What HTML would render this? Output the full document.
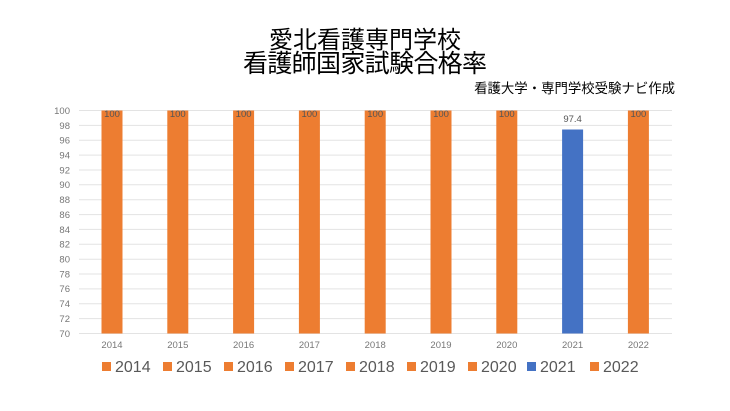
<!DOCTYPE html>
<html><head><meta charset="utf-8"><style>
body{margin:0;background:#fff;}
svg{display:block;font-family:"Liberation Sans","Noto Sans CJK JP",sans-serif;}
</style></head><body>
<svg width="730" height="411" viewBox="0 0 730 411" xmlns="http://www.w3.org/2000/svg">
<rect width="730" height="411" fill="#fff"/>
<text x="365" y="48" font-size="24" text-anchor="middle" fill="#000" font-family="Noto Sans CJK JP,sans-serif">愛北看護専門学校</text>
<text x="365" y="72" font-size="25" text-anchor="middle" fill="#000" font-family="Noto Sans CJK JP,sans-serif" textLength="244">看護師国家試験合格率</text>
<text x="675" y="93" font-size="13.4" text-anchor="end" fill="#000" font-family="Noto Sans CJK JP,sans-serif">看護大学・専門学校受験ナビ作成</text>
<g stroke="#e3e3e3" stroke-width="1">
<line x1="79" x2="672" y1="110.5" y2="110.5"/><line x1="79" x2="672" y1="125.4" y2="125.4"/><line x1="79" x2="672" y1="140.2" y2="140.2"/><line x1="79" x2="672" y1="155.1" y2="155.1"/><line x1="79" x2="672" y1="170" y2="170"/><line x1="79" x2="672" y1="184.8" y2="184.8"/><line x1="79" x2="672" y1="199.7" y2="199.7"/><line x1="79" x2="672" y1="214.6" y2="214.6"/><line x1="79" x2="672" y1="229.4" y2="229.4"/><line x1="79" x2="672" y1="244.3" y2="244.3"/><line x1="79" x2="672" y1="259.2" y2="259.2"/><line x1="79" x2="672" y1="274" y2="274"/><line x1="79" x2="672" y1="288.9" y2="288.9"/><line x1="79" x2="672" y1="303.8" y2="303.8"/><line x1="79" x2="672" y1="318.6" y2="318.6"/><line x1="79" x2="672" y1="333.5" y2="333.5"/>
</g>
<g font-size="9.5" fill="#777" text-anchor="end">
<text x="70" y="114">100</text><text x="70" y="129">98</text><text x="70" y="143.5">96</text><text x="70" y="158.5">94</text><text x="70" y="173.5">92</text><text x="70" y="188">90</text><text x="70" y="203">88</text><text x="70" y="218">86</text><text x="70" y="233">84</text><text x="70" y="247.5">82</text><text x="70" y="262.5">80</text><text x="70" y="277.5">78</text><text x="70" y="292">76</text><text x="70" y="307">74</text><text x="70" y="322">72</text><text x="70" y="337">70</text>
</g>
<g fill="#ED7D31">
<rect x="101.5" y="110.5" width="21" height="223"/><rect x="167.3" y="110.5" width="21" height="223"/><rect x="233.1" y="110.5" width="21" height="223"/><rect x="298.9" y="110.5" width="21" height="223"/><rect x="364.7" y="110.5" width="21" height="223"/><rect x="430.5" y="110.5" width="21" height="223"/><rect x="496.3" y="110.5" width="21" height="223"/><rect x="627.9" y="110.5" width="21" height="223"/>
</g>
<rect x="562.1" y="129.5" width="21" height="204" fill="#4472C4"/>
<g font-size="9.5" fill="#555" text-anchor="middle">
<text x="112" y="117">100</text><text x="177.8" y="117">100</text><text x="243.6" y="117">100</text><text x="309.4" y="117">100</text><text x="375.2" y="117">100</text><text x="441" y="117">100</text><text x="506.8" y="117">100</text><text x="572.6" y="122">97.4</text><text x="638.4" y="117">100</text>
</g>
<g font-size="9.5" fill="#777" text-anchor="middle">
<text x="112" y="348">2014</text><text x="177.8" y="348">2015</text><text x="243.6" y="348">2016</text><text x="309.4" y="348">2017</text><text x="375.2" y="348">2018</text><text x="441" y="348">2019</text><text x="506.8" y="348">2020</text><text x="572.6" y="348">2021</text><text x="638.4" y="348">2022</text>
</g>
<g font-size="16" fill="#595959">
<rect x="102" y="362" width="9" height="9" fill="#ED7D31"/><text x="115" y="372">2014</text>
<rect x="163" y="362" width="9" height="9" fill="#ED7D31"/><text x="176" y="372">2015</text>
<rect x="224" y="362" width="9" height="9" fill="#ED7D31"/><text x="237" y="372">2016</text>
<rect x="285" y="362" width="9" height="9" fill="#ED7D31"/><text x="298" y="372">2017</text>
<rect x="346" y="362" width="9" height="9" fill="#ED7D31"/><text x="359" y="372">2018</text>
<rect x="407" y="362" width="9" height="9" fill="#ED7D31"/><text x="420" y="372">2019</text>
<rect x="468" y="362" width="9" height="9" fill="#ED7D31"/><text x="481" y="372">2020</text>
<rect x="527" y="362" width="9" height="9" fill="#4472C4"/><text x="540" y="372">2021</text>
<rect x="590" y="362" width="9" height="9" fill="#ED7D31"/><text x="603" y="372">2022</text>
</g>
</svg>
</body></html>
